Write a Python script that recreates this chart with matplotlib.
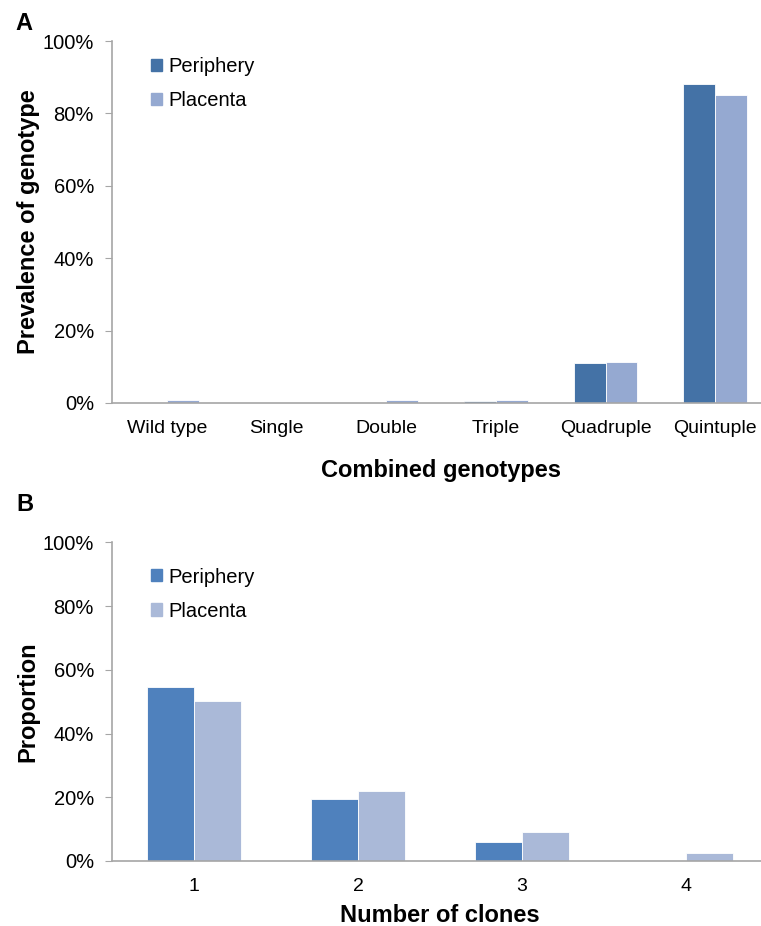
import numpy as np
import matplotlib.pyplot as plt
from matplotlib.patches import Patch
from matplotlib.ticker import PercentFormatter

plt.rcParams['font.family'] = ['Liberation Sans', 'DejaVu Sans']

genotypes = ['Wild type', 'Single', 'Double', 'Triple', 'Quadruple', 'Quintuple']
geno_periphery = [0.0, 0.0, 0.0, 0.5, 11.1, 88.0]
geno_placenta = [0.9, 0.0, 0.9, 0.9, 11.4, 85.1]

clones = ['1', '2', '3', '4']
clone_periphery = [54.7, 19.5, 5.9, 0.0]
clone_placenta = [50.1, 22.0, 9.2, 2.5]

fig = plt.figure(figsize=(7.61, 9.26), dpi=100)
axA = fig.add_axes([0.1472, 0.5648, 0.8647, 0.3909])
axB = fig.add_axes([0.1472, 0.0702, 0.862, 0.3442])


def style(ax, ylabel, xlabel, n):
    ax.set_ylim(0, 100)
    ax.set_xlim(-0.5, n - 0.5)
    ax.set_yticks(np.arange(0, 101, 20))
    ax.yaxis.set_major_formatter(PercentFormatter(decimals=0))
    for s in ['top', 'right']:
        ax.spines[s].set_visible(False)
    for s in ['left', 'bottom']:
        ax.spines[s].set_color('#a6a6a6')
        ax.spines[s].set_linewidth(1.2)
    ax.tick_params(axis='y', length=5, color='#a6a6a6', labelsize=14.5, pad=8)
    ax.tick_params(axis='x', length=0, labelsize=14, pad=12)
    ax.set_ylabel(ylabel, fontsize=17, fontweight='bold')
    ax.set_xlabel(xlabel, fontsize=17, fontweight='bold', labelpad=16)
    ax.yaxis.set_label_coords(-0.11, 0.5)


def legend(ax, colors, y):
    ax.legend(handles=[Patch(color=colors[0], label='Periphery'),
                       Patch(color=colors[1], label='Placenta')],
              loc='upper left', bbox_to_anchor=(0.038, y), frameon=False,
              fontsize=14.5, handlelength=0.55, handleheight=0.55,
              handletextpad=0.3, labelspacing=0.75, borderaxespad=0.3)


# panel A
x = np.arange(len(genotypes))
w = 0.29
axA.bar(x - w / 2, geno_periphery, w, color='#4472a6', edgecolor='white', linewidth=0.6)
axA.bar(x + w / 2, geno_placenta, w, color='#95a9d1', edgecolor='white', linewidth=0.6)
axA.set_xticks(x)
axA.set_xticklabels(genotypes)
style(axA, 'Prevalence of genotype', 'Combined genotypes', len(genotypes))
legend(axA, ['#4472a6', '#95a9d1'], 0.995)

# panel B
x = np.arange(len(clones))
w = 0.287
axB.bar(x - w / 2, clone_periphery, w, color='#4f81bd', edgecolor='white', linewidth=0.6)
axB.bar(x + w / 2, clone_placenta, w, color='#aab9d8', edgecolor='white', linewidth=0.6)
axB.set_xticks(x)
axB.set_xticklabels(clones)
style(axB, 'Proportion', 'Number of clones', len(clones))
axB.xaxis.labelpad = 7
legend(axB, ['#4f81bd', '#aab9d8'], 0.965)

fig.text(0.020, 0.975, 'A', fontsize=17, fontweight='bold', va='center')
fig.text(0.021, 0.455, 'B', fontsize=17, fontweight='bold', va='center')

fig.savefig('out.png', dpi=100)
